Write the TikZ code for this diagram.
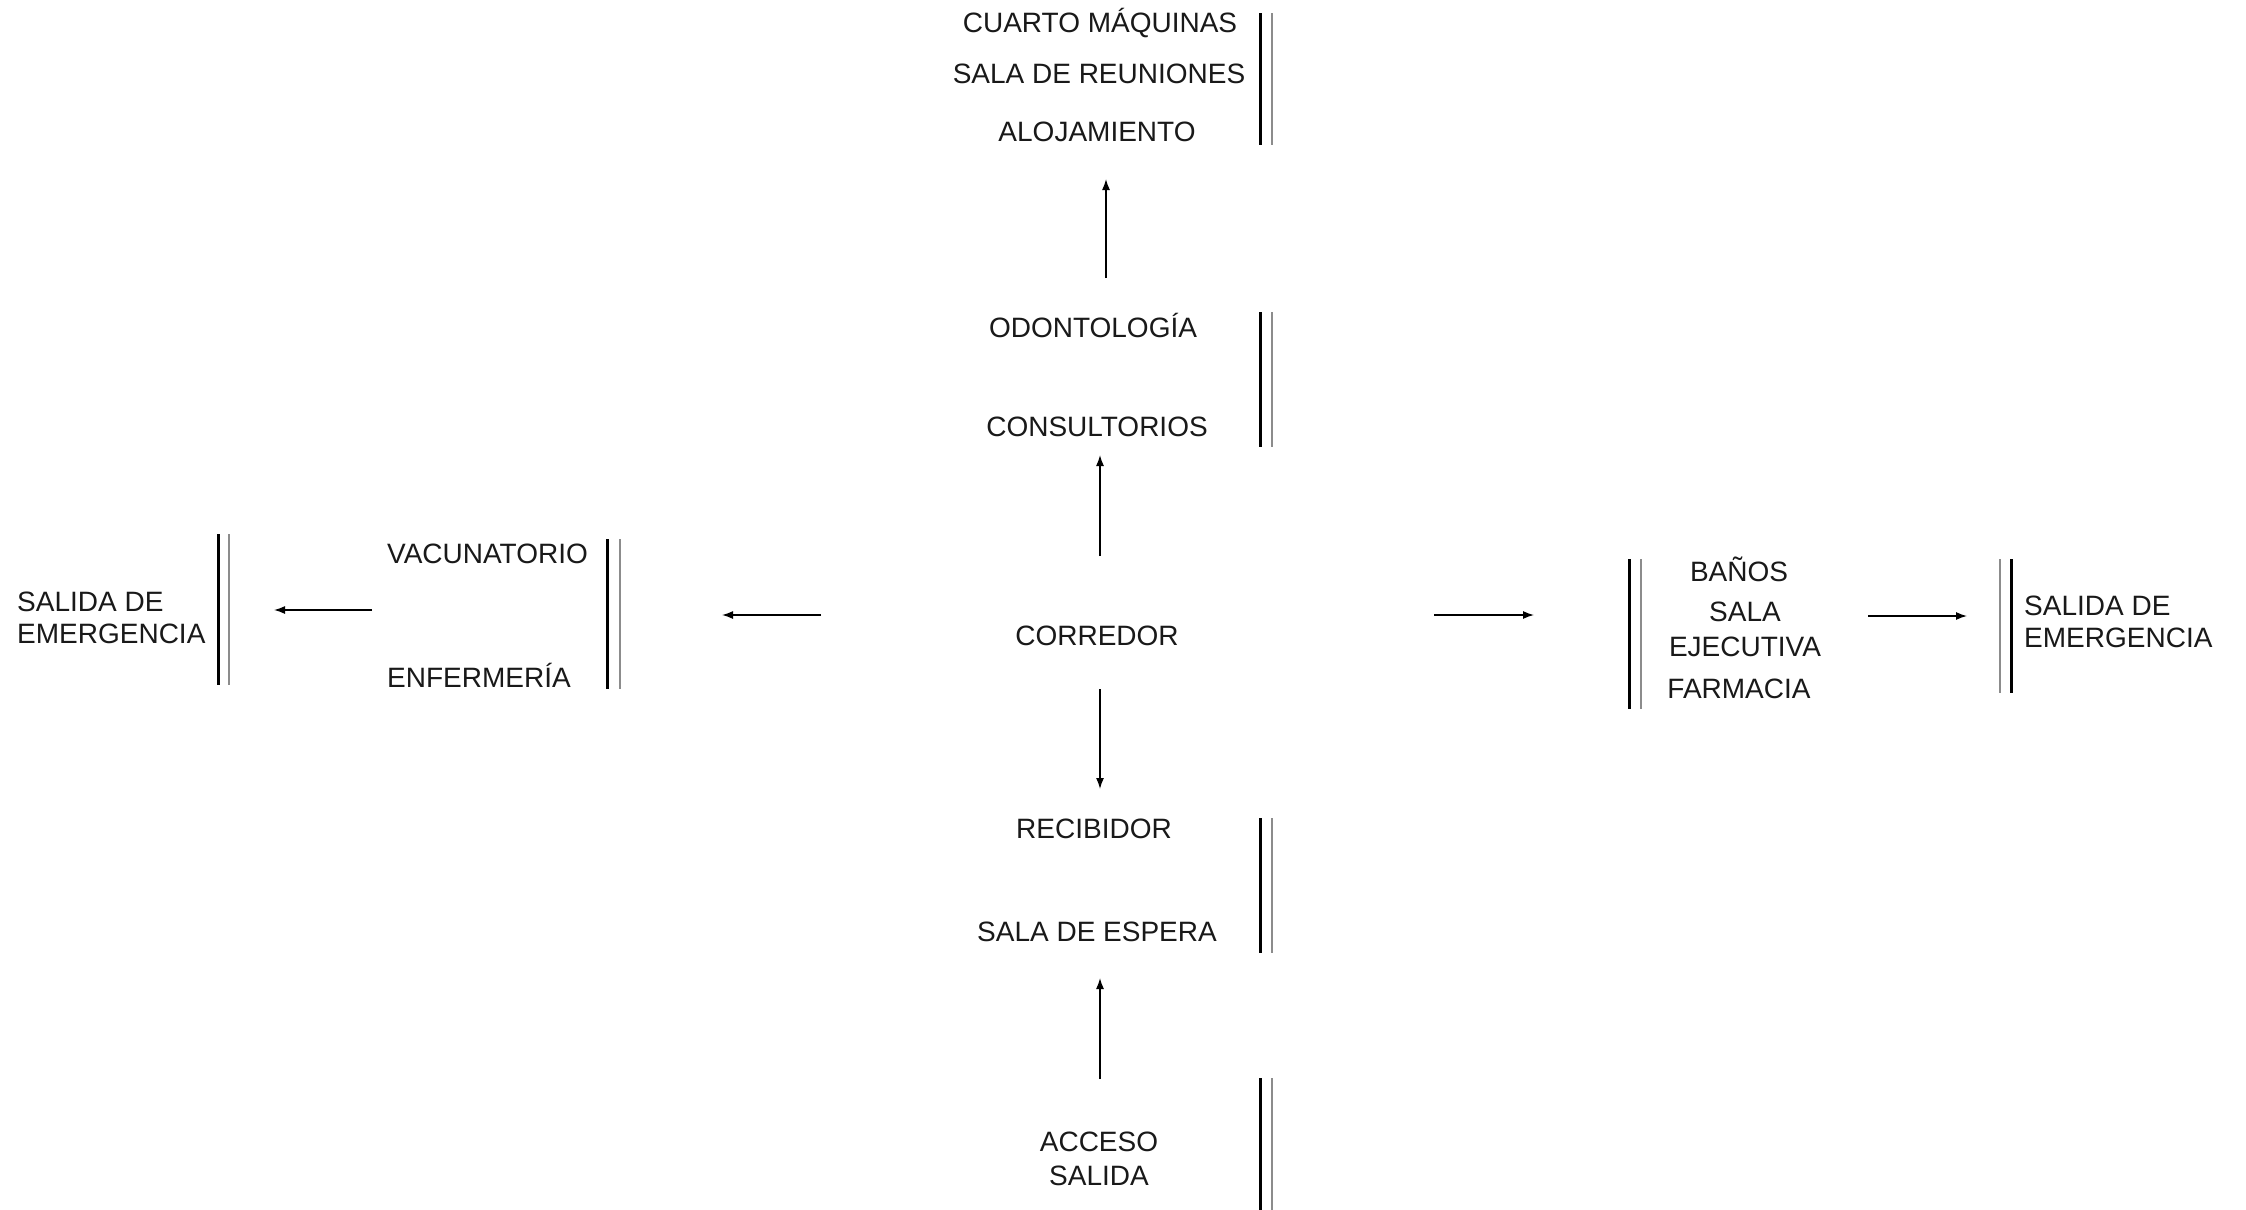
\documentclass[tikz,border=0pt]{standalone}
\usepackage{fontspec}
\setmainfont{Liberation Sans}
\usetikzlibrary{arrows.meta}
\begin{document}
\begin{tikzpicture}[x=1pt,y=-1pt,
  lbl/.style={font=\fontsize{28}{32}\selectfont, inner sep=0pt, text=black!90},
  lblw/.style={lbl, anchor=west, align=left},
  conn/.style={line width=1.4pt, -{Latex[length=11pt,width=8pt]}},
  thickwall/.style={line width=3pt, black},
  thinwall/.style={line width=1.3pt, black!45}]
\useasboundingbox (0,0) rectangle (2246,1210);
\fill[white] (0,0) rectangle (2246,1210);

% top group
\node[lbl] (cuarto) at (1100,23) {CUARTO MÁQUINAS};
\node[lbl] (reun) at (1099,74) {SALA DE REUNIONES};
\node[lbl] (aloj) at (1097,132) {ALOJAMIENTO};
\draw[thickwall] (1260,13) -- (1260,145);
\draw[thinwall] (1272,13) -- (1272,145);

% odontologia group
\node[lbl] (odon) at (1093,325) {ODONTOLOGÍA};
\node[lbl] (cons) at (1097,427) {CONSULTORIOS};
\draw[thickwall] (1260,312) -- (1260,447);
\draw[thinwall] (1272,312) -- (1272,447);

% corredor
\node[lbl] (corr) at (1097,636) {CORREDOR};

% recibidor group
\node[lbl] (recib) at (1094,829) {RECIBIDOR};
\node[lbl] (espera) at (1097,932) {SALA DE ESPERA};
\draw[thickwall] (1260,818) -- (1260,953);
\draw[thinwall] (1272,818) -- (1272,953);

% acceso
\node[lbl, align=center] (acceso) at (1099,1159) {ACCESO\\[2pt]SALIDA};
\draw[thickwall] (1260,1078) -- (1260,1210);
\draw[thinwall] (1272,1078) -- (1272,1210);

% left groups
\node[lblw] (vac) at (387,554) {VACUNATORIO};
\node[lblw] (enf) at (387,675) {ENFERMERÍA};
\draw[thickwall] (607,539) -- (607,689);
\draw[thinwall] (620,539) -- (620,689);

\node[lblw] (saliL) at (17,618) {SALIDA DE\\EMERGENCIA};
\draw[thickwall] (218,534) -- (218,685);
\draw[thinwall] (229,534) -- (229,685);

% right groups
\draw[thickwall] (1629,559) -- (1629,709);
\draw[thinwall] (1641,559) -- (1641,709);
\node[lbl] (banos) at (1739,569) {BAÑOS};
\node[lbl] (sala) at (1745,612) {SALA};
\node[lbl] (ejec) at (1745,647) {EJECUTIVA};
\node[lbl] (farm) at (1739,689) {FARMACIA};

\draw[thinwall] (2000,559) -- (2000,693);
\draw[thickwall] (2011,559) -- (2011,693);
\node[lblw] (saliR) at (2024,622) {SALIDA DE\\EMERGENCIA};

% connector end points
\coordinate (a1s) at (1106,278); \coordinate (a1e) at (1106,179);
\coordinate (a2s) at (1100,556); \coordinate (a2e) at (1100,455);
\coordinate (a3s) at (1100,689); \coordinate (a3e) at (1100,789);
\coordinate (a4s) at (1100,1079); \coordinate (a4e) at (1100,978);
\coordinate (a5s) at (821,615); \coordinate (a5e) at (722,615);
\coordinate (a6s) at (372,610); \coordinate (a6e) at (274,610);
\coordinate (a7s) at (1434,615); \coordinate (a7e) at (1534,615);
\coordinate (a8s) at (1868,616); \coordinate (a8e) at (1967,616);

\draw[conn] (a1s) -- (a1e);
\draw[conn] (a2s) -- (a2e);
\draw[conn] (a3s) -- (a3e);
\draw[conn] (a4s) -- (a4e);
\draw[conn] (a5s) -- (a5e);
\draw[conn] (a6s) -- (a6e);
\draw[conn] (a7s) -- (a7e);
\draw[conn] (a8s) -- (a8e);
\end{tikzpicture}
\end{document}
